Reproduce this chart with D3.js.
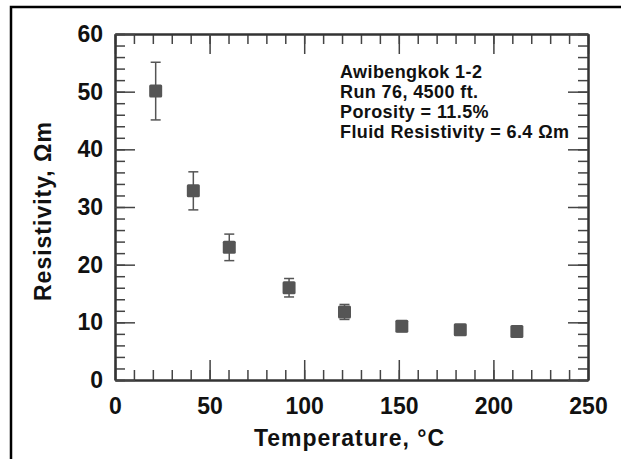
<!DOCTYPE html>
<html>
<head>
<meta charset="utf-8">
<script src="https://cdn.jsdelivr.net/npm/d3@7"></script>
<style>
  body { margin: 0; background: #fff; }
  svg text { font-family: "Liberation Sans", Arial, sans-serif; font-weight: bold; fill: #111; }
</style>
</head>
<body>
<div id="chart"></div>
<script>
var width = 621,
  height = 459;

// data
var temperature = [21.5, 41.4, 60.4, 92, 121.3, 151.6, 182.5, 212.4];
var resistivity = [50.1, 32.8, 23.0, 16.0, 11.8, 9.3, 8.7, 8.4];
var errorBar = [5.0, 3.3, 2.3, 1.6, 1.3, 0.9, 0.8, 0.8];

var xMajor = [0, 50, 100, 150, 200, 250];
var yMajor = [0, 10, 20, 30, 40, 50, 60];
var xMinor = d3.range(0, 251, 10);
var yMinor = d3.range(0, 61, 2);

var infoLines = ['Awibengkok 1-2', 'Run 76, 4500 ft.', 'Porosity = 11.5%', 'Fluid Resistivity = 6.4 \u03A9m'];
var xTitle = 'Temperature, \u00B0C';
var yTitle = 'Resistivity, \u03A9m';

// plot box (note: "top" is taken by window.top)
var padLeft = 115, padRight = 588, padTop = 34, padBottom = 380;

var svg = d3.select('#chart').append('svg')
  .attr('width', width)
  .attr('height', height);

// frame (only top and left edges are visible in the picture)
svg.append('path')
  .attr('d', 'M11,' + height + 'V7H' + width)
  .attr('fill', 'none')
  .attr('stroke', '#000')
  .attr('stroke-width', 2.5);

var x = d3.scaleLinear().domain([0, 250]).range([padLeft, padRight]);
var y = d3.scaleLinear().domain([0, 60]).range([padBottom, padTop]);

function styleAxis(g) {
  g.select('.domain').attr('stroke', '#333').attr('stroke-width', 2);
  g.selectAll('.tick line').attr('stroke', '#444').attr('stroke-width', 1.5);
  g.selectAll('.tick text').style('font-size', '23px').attr('fill', '#111');
}

// minor ticks on all four sides
svg.append('g').attr('transform', 'translate(0,' + padBottom + ')')
  .call(d3.axisBottom(x).tickValues(xMinor).tickSize(-10).tickSizeOuter(0).tickFormat(''))
  .call(styleAxis);
svg.append('g').attr('transform', 'translate(0,' + padTop + ')')
  .call(d3.axisTop(x).tickValues(xMinor).tickSize(-10).tickSizeOuter(0).tickFormat(''))
  .call(styleAxis);
svg.append('g').attr('transform', 'translate(' + padLeft + ',0)')
  .call(d3.axisLeft(y).tickValues(yMinor).tickSize(-10).tickSizeOuter(0).tickFormat(''))
  .call(styleAxis);
svg.append('g').attr('transform', 'translate(' + padRight + ',0)')
  .call(d3.axisRight(y).tickValues(yMinor).tickSize(-10).tickSizeOuter(0).tickFormat(''))
  .call(styleAxis);

// major ticks
svg.append('g').attr('transform', 'translate(0,' + padBottom + ')')
  .call(d3.axisBottom(x).tickValues(xMajor).tickSize(-20).tickSizeOuter(0).tickPadding(18).tickFormat(d3.format('d')))
  .call(styleAxis);
svg.append('g').attr('transform', 'translate(0,' + padTop + ')')
  .call(d3.axisTop(x).tickValues(xMajor).tickSize(-20).tickSizeOuter(0).tickFormat(''))
  .call(styleAxis);
svg.append('g').attr('transform', 'translate(' + padLeft + ',0)')
  .call(d3.axisLeft(y).tickValues(yMajor).tickSize(-20).tickSizeOuter(0).tickPadding(12).tickFormat(d3.format('d')))
  .call(styleAxis);
svg.append('g').attr('transform', 'translate(' + padRight + ',0)')
  .call(d3.axisRight(y).tickValues(yMajor).tickSize(-20).tickSizeOuter(0).tickFormat(''))
  .call(styleAxis);

// axis titles
svg.append('text')
  .attr('x', (padLeft + padRight) / 2 - 2)
  .attr('y', 446)
  .attr('text-anchor', 'middle')
  .style('font-size', '23px')
  .style('letter-spacing', '1px')
  .text(xTitle);

svg.append('text')
  .attr('transform', 'translate(51,' + ((padTop + padBottom) / 2 + 4) + ') rotate(-90)')
  .attr('text-anchor', 'middle')
  .style('font-size', '23px')
  .style('letter-spacing', '1px')
  .text(yTitle);

// info block
svg.append('g').selectAll('text')
  .data(infoLines)
  .enter().append('text')
  .attr('x', 340)
  .attr('y', function(d, i) { return 78 + i * 20; })
  .style('font-size', '18px')
  .style('letter-spacing', '0.4px')
  .text(function(d) { return d; });

// error bars
var pts = svg.append('g').selectAll('g')
  .data(temperature)
  .enter().append('g');

pts.append('line')
  .attr('x1', function(d) { return x(d); })
  .attr('x2', function(d) { return x(d); })
  .attr('y1', function(d, i) { return y(resistivity[i] - errorBar[i]); })
  .attr('y2', function(d, i) { return y(resistivity[i] + errorBar[i]); })
  .attr('stroke', '#555')
  .attr('stroke-width', 1.5);

[-1, 1].forEach(function(s) {
  pts.append('line')
    .attr('x1', function(d) { return x(d) - 5; })
    .attr('x2', function(d) { return x(d) + 5; })
    .attr('y1', function(d, i) { return y(resistivity[i] + s * errorBar[i]); })
    .attr('y2', function(d, i) { return y(resistivity[i] + s * errorBar[i]); })
    .attr('stroke', '#555')
    .attr('stroke-width', 1.5);
});

pts.append('rect')
  .attr('x', function(d) { return x(d) - 6.5; })
  .attr('y', function(d, i) { return y(resistivity[i]) - 6.5; })
  .attr('width', 13)
  .attr('height', 13)
  .attr('rx', 1.5)
  .attr('fill', '#555');
</script>
</body>
</html>
